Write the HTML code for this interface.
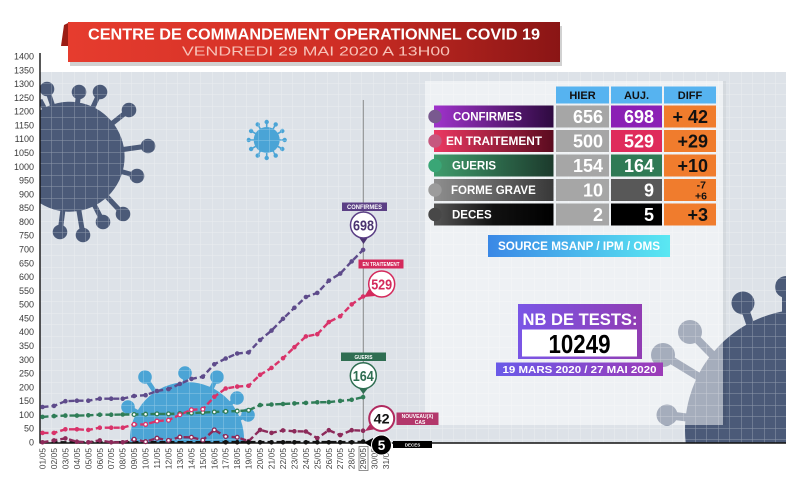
<!DOCTYPE html>
<html><head><meta charset="utf-8"><style>
html,body{margin:0;padding:0;background:#fff;width:800px;height:479px;overflow:hidden;}
svg{display:block;font-family:"Liberation Sans",sans-serif;overflow:hidden;}
</style></head><body>
<svg width="800" height="479" viewBox="0 0 800 479" xmlns="http://www.w3.org/2000/svg">
<defs>
<pattern id="grid" x="40" y="72" width="11.5" height="11.5" patternUnits="userSpaceOnUse"><path d="M11.5 0V11.5M0 11.5H11.5" stroke="#fff" stroke-opacity="0.38" stroke-width="1" fill="none"/></pattern>
<clipPath id="plot"><rect x="40" y="72" width="746" height="371"/></clipPath>
<linearGradient id="ban" x1="0" x2="1"><stop offset="0" stop-color="#e63c2e"/><stop offset="0.55" stop-color="#cf2e25"/><stop offset="1" stop-color="#8a1515"/></linearGradient>
<linearGradient id="gc" x1="0" x2="1"><stop offset="0" stop-color="#a033cc"/><stop offset="1" stop-color="#2e0a40"/></linearGradient>
<linearGradient id="gt" x1="0" x2="1"><stop offset="0" stop-color="#ec3862"/><stop offset="1" stop-color="#5a0b1f"/></linearGradient>
<linearGradient id="gg" x1="0" x2="1"><stop offset="0" stop-color="#3f9c6c"/><stop offset="1" stop-color="#1c3a2c"/></linearGradient>
<linearGradient id="gf" x1="0" x2="1"><stop offset="0" stop-color="#8e8e8e"/><stop offset="1" stop-color="#383838"/></linearGradient>
<linearGradient id="gd" x1="0" x2="1"><stop offset="0" stop-color="#555"/><stop offset="0.5" stop-color="#111"/><stop offset="1" stop-color="#000"/></linearGradient>
<linearGradient id="src" x1="0" x2="1"><stop offset="0" stop-color="#3a88e6"/><stop offset="1" stop-color="#5ae8f2"/></linearGradient>
<linearGradient id="nb" x1="0" x2="1"><stop offset="0" stop-color="#7a56e6"/><stop offset="1" stop-color="#913db3"/></linearGradient>
<linearGradient id="nbd" x1="0" x2="1"><stop offset="0" stop-color="#6a5ae8"/><stop offset="1" stop-color="#9c3bb7"/></linearGradient>
</defs>

<rect x="40" y="72" width="746" height="371" fill="#dde2e8"/>

<g clip-path="url(#plot)">
 <g fill="#4b5a78" stroke="#4b5a78">
  <g stroke-width="5">
   <line x1="70" y1="157" x2="47" y2="89"/><line x1="70" y1="157" x2="79" y2="92"/><line x1="70" y1="157" x2="100" y2="92"/>
   <line x1="70" y1="157" x2="129" y2="110"/><line x1="70" y1="157" x2="148" y2="146"/><line x1="70" y1="157" x2="137" y2="176"/>
   <line x1="70" y1="157" x2="123" y2="214"/><line x1="70" y1="157" x2="103" y2="222"/><line x1="70" y1="157" x2="83" y2="235"/>
   <line x1="70" y1="157" x2="60" y2="232"/><line x1="70" y1="157" x2="40" y2="100"/>
  </g>
  <g stroke="none">
   <path d="M40 110.4 A55 55 0 1 1 40 203.1 Z"/>
   <circle cx="47" cy="89" r="7.3"/><circle cx="79" cy="92" r="7.3"/><circle cx="100" cy="92" r="7.3"/>
   <circle cx="129" cy="110" r="7.3"/><circle cx="148" cy="146" r="7.3"/><circle cx="137" cy="176" r="7.3"/>
   <circle cx="123" cy="214" r="7.3"/><circle cx="103" cy="222" r="7.3"/><circle cx="83" cy="235" r="7.3"/>
   <circle cx="60" cy="232" r="7.3"/>
  </g>
 </g>
 <g fill="#4aa4d6" stroke="#4aa4d6">
  <g stroke-width="1.6">
   <line x1="266.7" y1="140" x2="284.7" y2="140"/><line x1="266.7" y1="140" x2="282.3" y2="149"/><line x1="266.7" y1="140" x2="275.7" y2="155.6"/>
   <line x1="266.7" y1="140" x2="266.7" y2="158"/><line x1="266.7" y1="140" x2="257.7" y2="155.6"/><line x1="266.7" y1="140" x2="251.1" y2="149"/>
   <line x1="266.7" y1="140" x2="248.7" y2="140"/><line x1="266.7" y1="140" x2="251.1" y2="131"/><line x1="266.7" y1="140" x2="257.7" y2="124.4"/>
   <line x1="266.7" y1="140" x2="266.7" y2="122"/><line x1="266.7" y1="140" x2="275.7" y2="124.4"/><line x1="266.7" y1="140" x2="282.3" y2="131"/>
  </g>
  <g stroke="none">
   <circle cx="266.7" cy="140" r="13"/>
   <circle cx="284.7" cy="140" r="2.2"/><circle cx="282.3" cy="149" r="2.2"/><circle cx="275.7" cy="155.6" r="2.2"/>
   <circle cx="266.7" cy="158" r="2.2"/><circle cx="257.7" cy="155.6" r="2.2"/><circle cx="251.1" cy="149" r="2.2"/>
   <circle cx="248.7" cy="140" r="2.2"/><circle cx="251.1" cy="131" r="2.2"/><circle cx="257.7" cy="124.4" r="2.2"/>
   <circle cx="266.7" cy="122" r="2.2"/><circle cx="275.7" cy="124.4" r="2.2"/><circle cx="282.3" cy="131" r="2.2"/>
  </g>
 </g>
 <g fill="#4ba4d5" stroke="#4ba4d5">
  <g stroke-width="4.5">
   <line x1="187" y1="440" x2="145" y2="377"/><line x1="187" y1="440" x2="185" y2="373"/><line x1="187" y1="440" x2="217" y2="377"/>
   <line x1="187" y1="440" x2="128" y2="407"/><line x1="187" y1="440" x2="237" y2="398"/><line x1="187" y1="440" x2="248" y2="415"/>
  </g>
  <g stroke="none">
   <path d="M130.14 443 A57 57 0 1 1 243.86 443 Z"/>
   <circle cx="145" cy="377" r="6.8"/><circle cx="185" cy="373" r="6.8"/><circle cx="217" cy="377" r="6.8"/>
   <circle cx="128" cy="407" r="6.8"/><circle cx="237" cy="398" r="6.8"/><circle cx="248" cy="415" r="6.8"/>
  </g>
 </g>
 <g fill="#4b5a78" stroke="#4b5a78">
  <g stroke-width="8">
   <line x1="786" y1="430" x2="743" y2="303"/><line x1="786" y1="430" x2="690" y2="332"/><line x1="786" y1="430" x2="663" y2="355"/>
   <line x1="786" y1="430" x2="667" y2="415"/><line x1="786" y1="430" x2="786" y2="287"/>
  </g>
  <g stroke="none">
   <path d="M685.7 443 A121 121 0 0 1 786 310.7 L786 443 Z"/>
   <circle cx="743" cy="303" r="11.5"/><circle cx="690" cy="332" r="12"/><circle cx="663" cy="355" r="12"/>
   <circle cx="667" cy="415" r="10.5"/><circle cx="786" cy="287" r="11"/>
  </g>
 </g>
 <rect x="40" y="72" width="746" height="371" fill="url(#grid)"/>
</g>

<rect x="425" y="81" width="298" height="344" fill="#fff" fill-opacity="0.5"/>
<rect x="723" y="81" width="3" height="344" fill="#000" fill-opacity="0.04"/>

<rect x="70" y="26" width="492" height="40" fill="#000" opacity="0.18"/>
<polygon points="64,25 70,22 70,46 61,46" fill="#9b1d15"/>
<rect x="68" y="22" width="492" height="40" fill="url(#ban)"/>
<text x="314" y="39.5" font-size="16" font-weight="bold" fill="#fff" text-anchor="middle" textLength="452" lengthAdjust="spacingAndGlyphs">CENTRE DE COMMANDEMENT OPERATIONNEL COVID 19</text>
<text x="316" y="55.5" font-size="12.5" fill="#f7c2b8" text-anchor="middle" textLength="268" lengthAdjust="spacingAndGlyphs">VENDREDI  29  MAI  2020  A  13H00</text>

<line x1="40" y1="53" x2="40" y2="443.5" stroke="#111" stroke-width="1.4"/>
<line x1="40" y1="443" x2="786" y2="443" stroke="#111" stroke-width="1.6"/>
<line x1="363.3" y1="100" x2="363.3" y2="443" stroke="#8a8a8a" stroke-width="1"/>

<g font-size="9" fill="#3a3a3a" text-anchor="end">
<text x="34" y="445.5">0</text><text x="34" y="431.7">50</text><text x="34" y="417.9">100</text><text x="34" y="404.2">150</text>
<text x="34" y="390.4">200</text><text x="34" y="376.6">250</text><text x="34" y="362.8">300</text><text x="34" y="349">350</text>
<text x="34" y="335.2">400</text><text x="34" y="321.4">450</text><text x="34" y="307.7">500</text><text x="34" y="293.9">550</text>
<text x="34" y="280.1">600</text><text x="34" y="266.3">650</text><text x="34" y="252.5">700</text><text x="34" y="238.7">750</text>
<text x="34" y="224.9">800</text><text x="34" y="211.2">850</text><text x="34" y="197.4">900</text><text x="34" y="183.6">950</text>
<text x="34" y="169.8">1000</text><text x="34" y="156">1050</text><text x="34" y="142.2">1100</text><text x="34" y="128.4">1150</text>
<text x="34" y="114.7">1200</text><text x="34" y="100.9">1250</text><text x="34" y="87.1">1300</text><text x="34" y="73.3">1350</text>
<text x="34" y="59.5">1400</text>
</g>

<g font-size="8.5" fill="#444" text-anchor="end">
<text transform="translate(45.5,448) rotate(-90)">01/05</text>
<text transform="translate(57,448) rotate(-90)">02/05</text>
<text transform="translate(68.4,448) rotate(-90)">03/05</text>
<text transform="translate(79.9,448) rotate(-90)">04/05</text>
<text transform="translate(91.3,448) rotate(-90)">05/05</text>
<text transform="translate(102.8,448) rotate(-90)">06/05</text>
<text transform="translate(114.2,448) rotate(-90)">07/05</text>
<text transform="translate(125.7,448) rotate(-90)">08/05</text>
<text transform="translate(137.1,448) rotate(-90)">09/05</text>
<text transform="translate(148.6,448) rotate(-90)">10/05</text>
<text transform="translate(160,448) rotate(-90)">11/05</text>
<text transform="translate(171.5,448) rotate(-90)">12/05</text>
<text transform="translate(182.9,448) rotate(-90)">13/05</text>
<text transform="translate(194.4,448) rotate(-90)">14/05</text>
<text transform="translate(205.8,448) rotate(-90)">15/05</text>
<text transform="translate(217.3,448) rotate(-90)">16/05</text>
<text transform="translate(228.7,448) rotate(-90)">17/05</text>
<text transform="translate(240.2,448) rotate(-90)">18/05</text>
<text transform="translate(251.6,448) rotate(-90)">19/05</text>
<text transform="translate(263.1,448) rotate(-90)">20/05</text>
<text transform="translate(274.5,448) rotate(-90)">21/05</text>
<text transform="translate(286,448) rotate(-90)">22/05</text>
<text transform="translate(297.4,448) rotate(-90)">23/05</text>
<text transform="translate(308.9,448) rotate(-90)">24/05</text>
<text transform="translate(320.3,448) rotate(-90)">25/05</text>
<text transform="translate(331.8,448) rotate(-90)">26/05</text>
<text transform="translate(343.2,448) rotate(-90)">27/05</text>
<text transform="translate(354.7,448) rotate(-90)">28/05</text>
<text transform="translate(366.1,448) rotate(-90)">29/05</text>
<text transform="translate(377.6,448) rotate(-90)">30/05</text>
<text transform="translate(389,448) rotate(-90)">31/05</text>
</g>
<rect x="359" y="446.5" width="9" height="24" fill="none" stroke="#777" stroke-width="0.8"/>

<g fill="none" stroke-width="2.4" stroke-dasharray="6 3">
<polyline stroke="#111" points="42.5,442.3 363.1,442 "/>
<polyline stroke="#5e4b8b" points="42.5,407 54,405.9 65.4,401.2 76.9,400.7 88.3,400.7 99.8,398.7 111.2,398.7 122.7,398.7 134.1,396 145.6,395.2 157,391 168.5,389.1 179.9,383.9 191.4,378.9 202.8,376.7 214.3,364.3 225.7,358.5 237.2,353.5 248.6,352.4 260.1,340 271.5,330.6 283,318.8 294.4,307.8 305.9,297 317.3,292.9 328.8,280.7 340.2,273.6 351.7,261.4 363.1,249.9"/>
<polyline stroke="#d9336a" points="42.5,432.9 54,432.9 65.4,429.3 76.9,429.3 88.3,429.9 99.8,427.7 111.2,427.7 122.7,427.7 134.1,424.4 145.6,424.4 157,421.1 168.5,420.2 179.9,414.7 191.4,409.8 202.8,409.2 214.3,396.8 225.7,388.5 237.2,386.6 248.6,385.8 260.1,374.8 271.5,367.9 283,358.2 294.4,347.2 305.9,336.4 317.3,334.2 328.8,322.1 340.2,316.3 351.7,304.4 363.1,296.5"/>
<polyline stroke="#2f7d57" points="42.5,416.9 54,416.1 65.4,415.6 76.9,415.6 88.3,415.3 99.8,414.7 111.2,414.7 122.7,414.5 134.1,414.5 145.6,414.2 157,413.9 168.5,413.9 179.9,413.6 191.4,413.1 202.8,412.5 214.3,412 225.7,411.4 237.2,411.1 248.6,410.3 260.1,405.1 271.5,404.5 283,404 294.4,403.4 305.9,402.9 317.3,402.3 328.8,402.1 340.2,400.9 351.7,399.8 363.1,397.1"/>
<polyline stroke="#8c2a5a" points="42.5,442.3 54,440.4 65.4,438.4 76.9,441.7 88.3,442.3 99.8,440.4 111.2,442.3 122.7,442.3 134.1,439.3 145.6,441.7 157,438.2 168.5,440.4 179.9,437.1 191.4,437.3 202.8,440.1 214.3,429.9 225.7,436.5 237.2,437.3 248.6,441.2 260.1,429.9 271.5,432.9 283,430.4 294.4,431.3 305.9,431.5 317.3,438.2 328.8,430.2 340.2,435.1 351.7,430.2 363.1,430.7"/>
</g>
<g fill="none" stroke-linecap="round" stroke-width="4.6">
<path stroke="#5e4b8b" d="M42.5 407h0M54 405.9h0M65.4 401.2h0M76.9 400.7h0M88.3 400.7h0M99.8 398.7h0M111.2 398.7h0M122.7 398.7h0M134.1 396h0M145.6 395.2h0M157 391h0M168.5 389.1h0M179.9 383.9h0M191.4 378.9h0M202.8 376.7h0M214.3 364.3h0M225.7 358.5h0M237.2 353.5h0M248.6 352.4h0M260.1 340h0M271.5 330.6h0M283 318.8h0M294.4 307.8h0M305.9 297h0M317.3 292.9h0M328.8 280.7h0M340.2 273.6h0M351.7 261.4h0M363.1 249.9h0"/>
<path stroke="#d9336a" d="M42.5 432.9h0M54 432.9h0M65.4 429.3h0M76.9 429.3h0M88.3 429.9h0M99.8 427.7h0M111.2 427.7h0M122.7 427.7h0M134.1 424.4h0M145.6 424.4h0M157 421.1h0M168.5 420.2h0M179.9 414.7h0M191.4 409.8h0M202.8 409.2h0M214.3 396.8h0M225.7 388.5h0M237.2 386.6h0M248.6 385.8h0M260.1 374.8h0M271.5 367.9h0M283 358.2h0M294.4 347.2h0M305.9 336.4h0M317.3 334.2h0M328.8 322.1h0M340.2 316.3h0M351.7 304.4h0M363.1 296.5h0"/>
<path stroke="#2f7d57" d="M42.5 416.9h0M54 416.1h0M65.4 415.6h0M76.9 415.6h0M88.3 415.3h0M99.8 414.7h0M111.2 414.7h0M122.7 414.5h0M134.1 414.5h0M145.6 414.2h0M157 413.9h0M168.5 413.9h0M179.9 413.6h0M191.4 413.1h0M202.8 412.5h0M214.3 412h0M225.7 411.4h0M237.2 411.1h0M248.6 410.3h0M260.1 405.1h0M271.5 404.5h0M283 404h0M294.4 403.4h0M305.9 402.9h0M317.3 402.3h0M328.8 402.1h0M340.2 400.9h0M351.7 399.8h0M363.1 397.1h0"/>
<path stroke="#8c2a5a" d="M42.5 442.3h0M54 440.4h0M65.4 438.4h0M76.9 441.7h0M88.3 442.3h0M99.8 440.4h0M111.2 442.3h0M122.7 442.3h0M134.1 439.3h0M145.6 441.7h0M157 438.2h0M168.5 440.4h0M179.9 437.1h0M191.4 437.3h0M202.8 440.1h0M214.3 429.9h0M225.7 436.5h0M237.2 437.3h0M248.6 441.2h0M260.1 429.9h0M271.5 432.9h0M283 430.4h0M294.4 431.3h0M305.9 431.5h0M317.3 438.2h0M328.8 430.2h0M340.2 435.1h0M351.7 430.2h0M363.1 430.7h0"/>
<path stroke="#111" d="M225.7 442.3h0M237.2 442.3h0M248.6 442.3h0M260.1 442.3h0M271.5 442.3h0M283 442.3h0M294.4 442.3h0M305.9 442.3h0M317.3 442.3h0M328.8 442.3h0M340.2 442.3h0M351.7 442.3h0M363.1 441.5h0"/>
</g>
<g fill="#fff" stroke-width="1.3">
<g stroke="#2f7d57"><circle cx="134.1" cy="414.5" r="1.9"/><circle cx="145.6" cy="414.2" r="1.9"/><circle cx="157" cy="413.9" r="1.9"/><circle cx="168.5" cy="413.9" r="1.9"/><circle cx="179.9" cy="413.6" r="1.9"/><circle cx="191.4" cy="413.1" r="1.9"/><circle cx="202.8" cy="412.5" r="1.9"/><circle cx="214.3" cy="412" r="1.9"/><circle cx="225.7" cy="411.4" r="1.9"/><circle cx="237.2" cy="411.1" r="1.9"/><circle cx="248.6" cy="410.3" r="1.9"/></g>
<g stroke="#d9336a"><circle cx="134.1" cy="424.4" r="1.9"/><circle cx="145.6" cy="424.4" r="1.9"/><circle cx="157" cy="421.1" r="1.9"/><circle cx="168.5" cy="420.2" r="1.9"/><circle cx="179.9" cy="414.7" r="1.9"/><circle cx="191.4" cy="409.8" r="1.9"/><circle cx="202.8" cy="409.2" r="1.9"/></g>
<g stroke="#8c2a5a"><circle cx="134.1" cy="439.3" r="1.9"/><circle cx="145.6" cy="441.7" r="1.9"/><circle cx="157" cy="438.2" r="1.9"/><circle cx="168.5" cy="440.4" r="1.9"/><circle cx="179.9" cy="437.1" r="1.9"/><circle cx="191.4" cy="437.3" r="1.9"/><circle cx="202.8" cy="440.1" r="1.9"/><circle cx="214.3" cy="429.9" r="1.9"/><circle cx="225.7" cy="436.5" r="1.9"/><circle cx="237.2" cy="437.3" r="1.9"/></g>
</g>

<rect x="342" y="202.5" width="45" height="8.5" fill="#5b3f85"/>
<text x="364.5" y="209" font-size="6" font-weight="bold" fill="#fff" text-anchor="middle" textLength="35" lengthAdjust="spacingAndGlyphs">CONFIRMES</text>
<polygon points="358,236 369,236 363.5,244" fill="#4b3470"/>
<circle cx="363.5" cy="225" r="13" fill="#fff" stroke="#5b3f85" stroke-width="1.5"/>
<text x="363.5" y="230.5" font-size="14.5" font-weight="bold" fill="#4b3470" text-anchor="middle" textLength="21" lengthAdjust="spacingAndGlyphs">698</text>

<rect x="358.5" y="259.5" width="45" height="9" fill="#d42a5c"/>
<text x="381" y="266" font-size="5" font-weight="bold" fill="#fff" text-anchor="middle" textLength="37" lengthAdjust="spacingAndGlyphs">EN TRAITEMENT</text>
<polygon points="369,289 375,296 364,297" fill="#d42a5c"/>
<circle cx="381.7" cy="284" r="13" fill="#fff" stroke="#d42a5c" stroke-width="1.5"/>
<text x="381.7" y="289.5" font-size="14.5" font-weight="bold" fill="#d42a5c" text-anchor="middle" textLength="21" lengthAdjust="spacingAndGlyphs">529</text>

<rect x="341" y="352.5" width="45" height="8.5" fill="#2f6e52"/>
<text x="363.5" y="358.8" font-size="5" font-weight="bold" fill="#fff" text-anchor="middle" textLength="18" lengthAdjust="spacingAndGlyphs">GUERIS</text>
<polygon points="358,387 369,387 363.3,394" fill="#2f6e52"/>
<circle cx="363.3" cy="375.7" r="13" fill="#fff" stroke="#2f6e52" stroke-width="1.5"/>
<text x="363.3" y="381.2" font-size="14.5" font-weight="bold" fill="#2f6e52" text-anchor="middle" textLength="21" lengthAdjust="spacingAndGlyphs">164</text>

<rect x="396.5" y="412.5" width="42" height="12.5" fill="#b3376b"/>
<text x="417.5" y="418" font-size="5" font-weight="bold" fill="#fff" text-anchor="middle">NOUVEAU(X)</text>
<text x="420" y="424" font-size="5" font-weight="bold" fill="#fff" text-anchor="middle">CAS</text>
<polygon points="370,424 376,429 365,431" fill="#b02a5f"/>
<circle cx="381.7" cy="418.5" r="12.5" fill="#fff" stroke="#b02a5f" stroke-width="2"/>
<text x="381.7" y="423.5" font-size="14" font-weight="bold" fill="#111" text-anchor="middle" textLength="16" lengthAdjust="spacingAndGlyphs">42</text>

<rect x="393" y="441" width="39" height="7" fill="#000"/>
<text x="412.5" y="446.3" font-size="4.5" font-weight="bold" fill="#fff" text-anchor="middle">DECES</text>
<polygon points="373,438 373,448 364,442.5" fill="#000"/>
<circle cx="381.5" cy="445" r="10" fill="#000" stroke="#fff" stroke-width="1"/>
<text x="381.5" y="450" font-size="13.5" font-weight="bold" fill="#fff" text-anchor="middle">5</text>

<g font-weight="bold">
<rect x="556" y="86.5" width="53" height="17" fill="#56b3f0"/>
<rect x="611" y="86.5" width="51" height="17" fill="#56b3f0"/>
<rect x="664" y="86.5" width="52" height="17" fill="#56b3f0"/>
<g font-size="11" fill="#111" text-anchor="middle">
<text x="582.5" y="99">HIER</text><text x="636.5" y="99">AUJ.</text><text x="690" y="99">DIFF</text>
</g>

<rect x="434" y="105.5" width="119.5" height="22" fill="url(#gc)"/>
<rect x="434" y="130" width="119.5" height="22" fill="url(#gt)"/>
<rect x="434" y="154.5" width="119.5" height="22" fill="url(#gg)"/>
<rect x="434" y="179" width="119.5" height="22" fill="url(#gf)"/>
<rect x="434" y="203.5" width="119.5" height="22" fill="url(#gd)"/>
<g fill="#a6a6a6">
<rect x="556" y="105.5" width="53" height="22"/><rect x="556" y="130" width="53" height="22"/><rect x="556" y="154.5" width="53" height="22"/><rect x="556" y="179" width="53" height="22"/><rect x="556" y="203.5" width="53" height="22"/>
</g>
<rect x="611" y="105.5" width="51" height="22" fill="#8b20b5"/>
<rect x="611" y="130" width="51" height="22" fill="#df2b5b"/>
<rect x="611" y="154.5" width="51" height="22" fill="#2f7a55"/>
<rect x="611" y="179" width="51" height="22" fill="#585858"/>
<rect x="611" y="203.5" width="51" height="22" fill="#000"/>
<g fill="#f07c2d">
<rect x="664" y="105.5" width="52" height="22"/><rect x="664" y="130" width="52" height="22"/><rect x="664" y="154.5" width="52" height="22"/><rect x="664" y="179" width="52" height="22"/><rect x="664" y="203.5" width="52" height="22"/>
</g>

<circle cx="435" cy="116.5" r="6.7" fill="#79598f"/>
<circle cx="435" cy="141" r="6.7" fill="#c6587f"/>
<circle cx="435" cy="165.5" r="6.7" fill="#3aa676"/>
<circle cx="435" cy="190" r="6.7" fill="#9c9c9c"/>
<circle cx="435" cy="214.5" r="6.7" fill="#484848"/>

<g font-size="11.5" fill="#fff">
<text x="453" y="120.6">CONFIRMES</text>
<text x="446" y="145.1" textLength="96" lengthAdjust="spacingAndGlyphs">EN TRAITEMENT</text>
<text x="452" y="169.6">GUERIS</text>
<text x="451" y="194.1">FORME GRAVE</text>
<text x="452" y="218.6">DECES</text>
</g>
<g font-size="18" fill="#fff" text-anchor="end">
<text x="603" y="123">656</text><text x="603" y="147.5">500</text><text x="603" y="172">154</text><text x="603" y="196.5">10</text><text x="603" y="221">2</text>
<text x="654" y="123">698</text><text x="654" y="147.5">529</text><text x="654" y="172">164</text><text x="654" y="196.5">9</text><text x="654" y="221">5</text>
</g>
<g font-size="18" fill="#111" text-anchor="end">
<text x="708" y="123">+ 42</text><text x="708" y="147.5">+29</text><text x="708" y="172">+10</text><text x="708" y="221">+3</text>
</g>
<g font-size="10.5" fill="#111" text-anchor="end">
<text x="706" y="188.5">-7</text><text x="707" y="199.5">+6</text>
</g>

<rect x="488" y="235" width="182" height="22" fill="url(#src)"/>
<text x="579" y="250" font-size="11.5" fill="#fff" text-anchor="middle" textLength="162" lengthAdjust="spacingAndGlyphs">SOURCE MSANP / IPM / OMS</text>

<rect x="518" y="304" width="124" height="55" fill="url(#nb)"/>
<text x="580" y="325" font-size="16.5" fill="#fff" text-anchor="middle" textLength="115" lengthAdjust="spacingAndGlyphs">NB DE TESTS:</text>
<rect x="522" y="329.5" width="115" height="27" fill="#fff"/>
<text x="579.5" y="353" font-size="26" fill="#000" text-anchor="middle" textLength="62" lengthAdjust="spacingAndGlyphs">10249</text>
<rect x="496" y="362.5" width="167" height="13.5" fill="url(#nbd)"/>
<text x="579.5" y="373.2" font-size="10.5" fill="#fff" text-anchor="middle" textLength="154" lengthAdjust="spacingAndGlyphs">19 MARS 2020 / 27 MAI 2020</text>
</g>
</svg>
</body></html>
